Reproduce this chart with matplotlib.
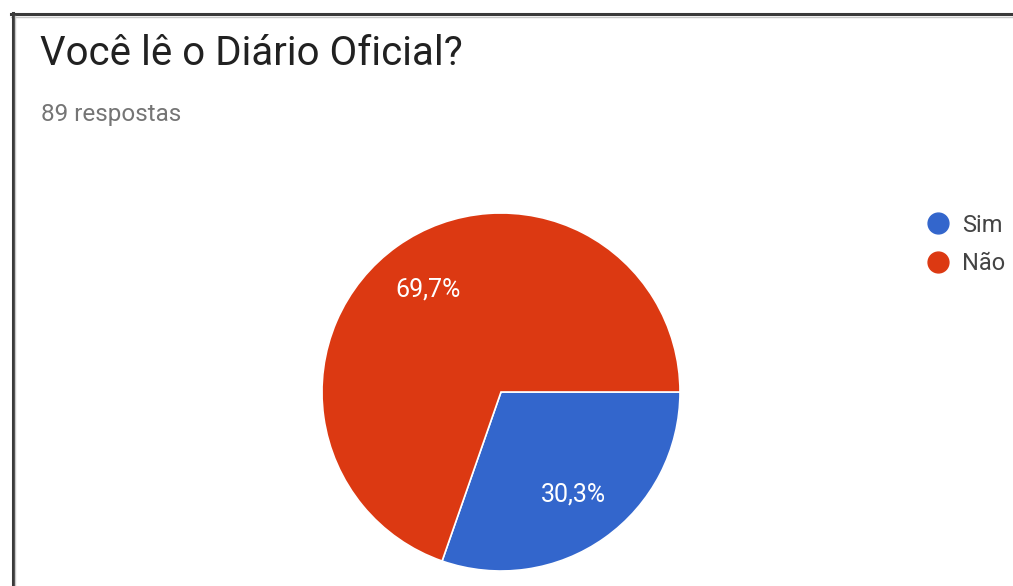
import matplotlib.pyplot as plt
from matplotlib.lines import Line2D

plt.rcParams['font.family'] = ['Roboto', 'DejaVu Sans']

# dados (89 respostas)
categorias = ['Sim', 'Não']
respostas = [27, 62]
cores = ['#3366cc', '#dc3912']
titulo = 'Você lê o Diário Oficial?'
subtitulo = '89 respostas'

fig = plt.figure(figsize=(10.13, 5.86), dpi=100)
ax = fig.add_axes([0, 0, 1, 1])

def fmt(p):
    return '{:.1f}%'.format(p).replace('.', ',')

# eixo em pixels, y invertido -> fatias no sentido horário a partir das 3h
wedges, textos, pcts = ax.pie(respostas, colors=cores, startangle=0, counterclock=True,
                              center=(501, 392), radius=179, autopct=fmt, pctdistance=0.7,
                              wedgeprops=dict(edgecolor='white', linewidth=1.2),
                              textprops=dict(color='white', fontsize=18))
ax.set_xlim(0, 1013)
ax.set_ylim(586, 0)
ax.set_aspect('equal')
ax.axis('off')

ax.text(40, 65, titulo, fontsize=29, color='#212121', va='baseline')
ax.text(41, 121, subtitulo, fontsize=17.5, color='#757575', va='baseline')

# legenda
for i, (c, cor) in enumerate(zip(categorias, cores)):
    ax.plot(938, 223 + 39 * i, 'o', ms=15, color=cor, mec=cor)
    ax.text(962, 232 + 38.5 * i, c, fontsize=17, color='#444444', va='baseline')

# moldura do print
fig.add_artist(Line2D([11 / 1013, 1], [1 - 14 / 586, 1 - 14 / 586], color='#3a3a3a', lw=2.2))
fig.add_artist(Line2D([11 / 1013, 1], [1 - 16.5 / 586, 1 - 16.5 / 586], color='#c8c8c8', lw=1))
fig.add_artist(Line2D([12.5 / 1013, 12.5 / 1013], [0, 1 - 13 / 586], color='#3a3a3a', lw=2.2))
fig.add_artist(Line2D([15 / 1013, 15 / 1013], [0, 1 - 16 / 586], color='#c8c8c8', lw=1))

plt.savefig('out.png', dpi=100)
